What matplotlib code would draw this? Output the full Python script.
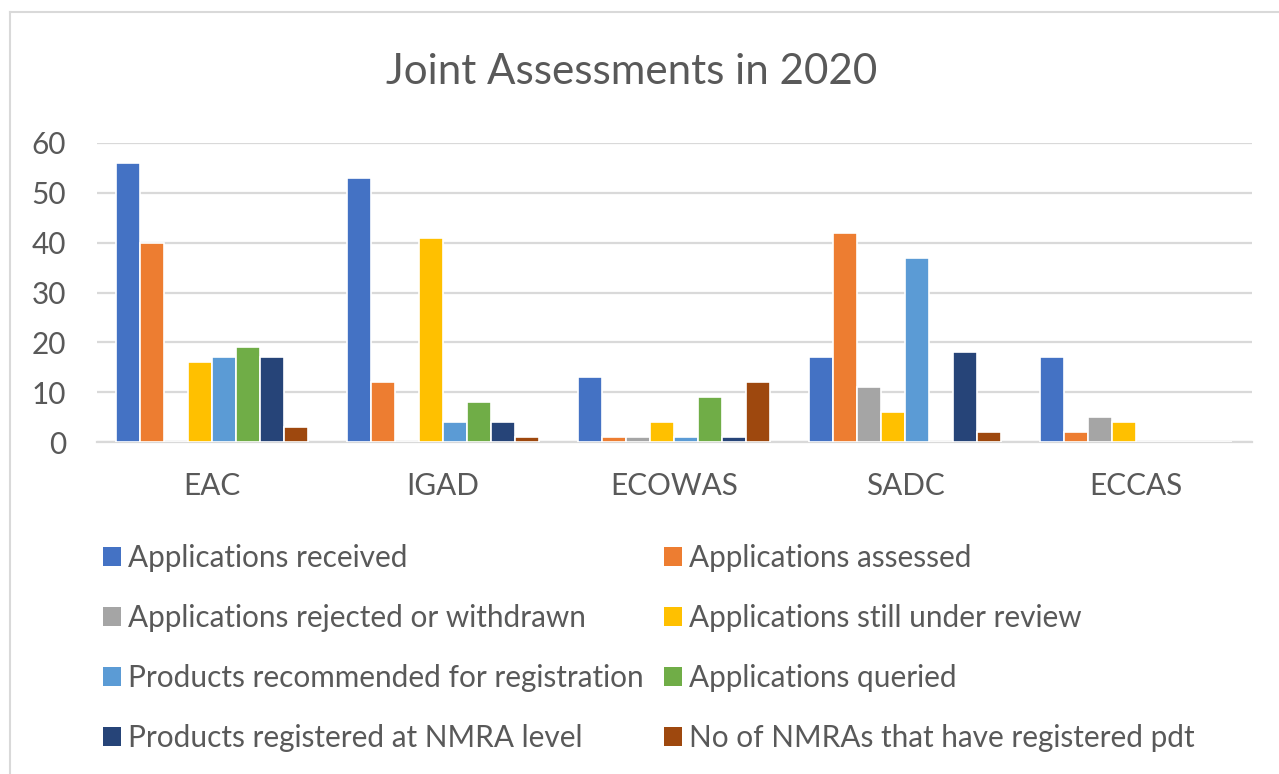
import numpy as np
import matplotlib
matplotlib.use("Agg")
import matplotlib.pyplot as plt
from matplotlib.lines import Line2D
from matplotlib.patches import Patch

regions = ["EAC", "IGAD", "ECOWAS", "SADC", "ECCAS"]
series_names = [
    "Applications received",
    "Applications assessed",
    "Applications rejected or withdrawn",
    "Applications still under review",
    "Products recommended for registration",
    "Applications queried",
    "Products registered at NMRA level",
    "No of NMRAs that have registered pdt",
]
received = [56, 53, 13, 17, 17]
assessed = [40, 12, 1, 42, 2]
rejected = [0, 0, 1, 11, 5]
under_review = [16, 41, 4, 6, 4]
recommended = [17, 4, 1, 37, 0]
queried = [19, 8, 9, 0, 0]
registered = [17, 4, 1, 18, 0]
nmras = [3, 1, 12, 2, 0]
series_values = [received, assessed, rejected, under_review,
                 recommended, queried, registered, nmras]
colors = ["#4472C4", "#ED7D31", "#A5A5A5", "#FFC000",
          "#5B9BD5", "#70AD47", "#264478", "#9E480E"]

plt.rcParams["font.family"] = ["Lato", "DejaVu Sans"]
text_color = "#595959"
grid_color = "#D9D9D9"
fs = 21.4

fig = plt.figure(figsize=(12.79, 7.74), dpi=100)
ax = fig.add_axes([96.5 / 1279, 1 - 442 / 774, 1155 / 1279, 299 / 774])

x = np.arange(len(regions))
pitch = 24 / 231
for i, (vals, c) in enumerate(zip(series_values, colors)):
    ax.bar(x + (i - 3.5) * pitch, vals, width=pitch, color=c,
           edgecolor="white", linewidth=1.2, zorder=3, label=series_names[i])

ax.set_xlim(-0.5, len(regions) - 0.5)
ax.set_ylim(0, 60)
ax.set_yticks(range(0, 61, 10))
ax.set_xticks(x)
ax.set_xticklabels(regions)
ax.tick_params(axis="both", length=0, labelsize=fs, colors=text_color)
ax.tick_params(axis="y", pad=22)
ax.tick_params(axis="x", pad=21.5)
ax.grid(axis="y", color=grid_color, linewidth=1.6, zorder=0)
for s in ["top", "right", "left"]:
    ax.spines[s].set_visible(False)
ax.spines["bottom"].set_color(grid_color)
ax.spines["bottom"].set_linewidth(1.6)

fig.text(632 / 1279, 1 - 72 / 774, "Joint Assessments in 2020",
         ha="center", va="center", fontsize=30.3, color=text_color)

# legend: row-major order in two columns
order = [0, 2, 4, 6, 1, 3, 5, 7]
handles = [Patch(facecolor=colors[k], edgecolor="none") for k in order]
labels = [series_names[k] for k in order]
leg = fig.legend(handles, labels, ncol=2, loc="upper left",
                 bbox_to_anchor=(91 / 1279, 1 - 532 / 774),
                 frameon=False, fontsize=fs, labelcolor=text_color,
                 handlelength=0.6, handleheight=0.6, handletextpad=0.25,
                 columnspacing=0.67, labelspacing=1.08, borderaxespad=0)

# chart border (left and top visible)
fig.add_artist(Line2D([10 / 1279, 10 / 1279], [0, 1 - 12 / 774],
                      transform=fig.transFigure, color=grid_color, linewidth=1.5))
fig.add_artist(Line2D([10 / 1279, 1], [1 - 12 / 774, 1 - 12 / 774],
                      transform=fig.transFigure, color=grid_color, linewidth=1.5))

fig.savefig("out.png", dpi=100, facecolor="white")
